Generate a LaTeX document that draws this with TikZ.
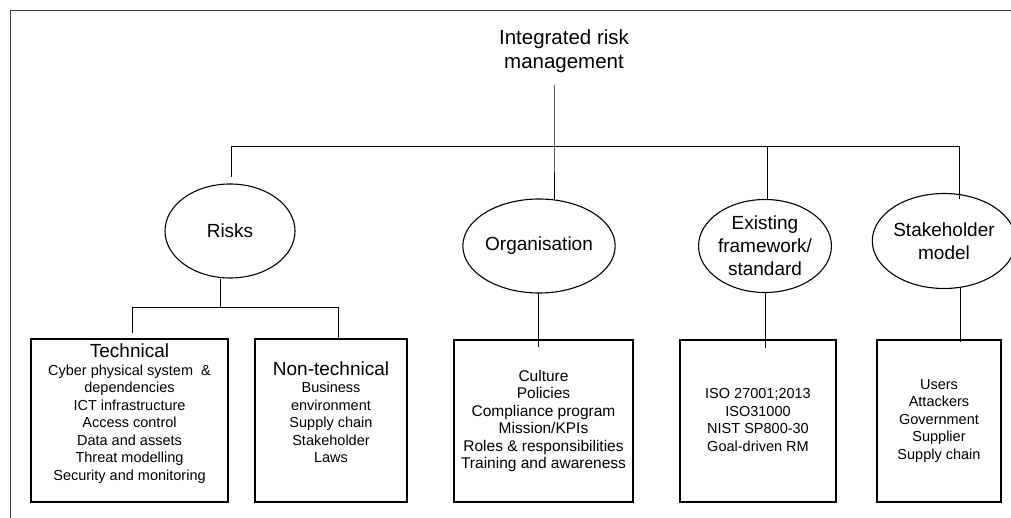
\documentclass[tikz,border=0pt]{standalone}
\usepackage{fontspec}
\setmainfont{Liberation Sans}
\usetikzlibrary{shapes.geometric}
\newcommand{\hdfont}{\fontsize{19}{18}\selectfont}
\begin{document}
\begin{tikzpicture}[x=1pt,y=-1pt,
  conn/.style={draw=black, line width=0.9pt},
  frame/.style={draw=black!75, line width=0.9pt},
  oval/.style={ellipse, draw, line width=1.1pt, inner sep=0pt, align=center,
    font=\fontsize{19}{23}\selectfont},
  box/.style={rectangle, draw, line width=1.2pt, inner sep=0pt},
  boxtext/.style={align=center, inner sep=0pt, font=\fontsize{14.5}{17.5}\selectfont}]
\useasboundingbox (0,0) rectangle (1011,518);
% partial frame
\coordinate (fbl) at (10,518);
\coordinate (ftl) at (10,10);
\coordinate (ftr) at (1011,10);
\draw[frame] (fbl) -- (ftl) -- (ftr);
% title
\node[align=center, inner sep=0pt, font=\fontsize{20.5}{24}\selectfont] (title) at (564,51)
  {Integrated risk\\management};
% ellipses
\node[oval, minimum width=130pt, minimum height=94pt] (risks) at (230,231) {Risks};
\node[oval, minimum width=132pt, minimum height=94pt] (org) at (539,246) {Organisation};
\node[oval, minimum width=124pt, minimum height=93pt] (exist) at (765,246) {Existing\\framework/\\standard};
\node[oval, minimum width=132pt, minimum height=95pt] (stake) at (944,241) {Stakeholder\\model};
% boxes
\node[box, minimum width=197pt, minimum height=163pt] (tech) at (129.5,420.5) {};
\node[box, minimum width=152pt, minimum height=163pt] (nontech) at (331,420.5) {};
\node[box, minimum width=179pt, minimum height=162pt] (orgbox) at (543.5,421) {};
\node[box, minimum width=156pt, minimum height=162pt] (existbox) at (758,421) {};
\node[box, minimum width=124pt, minimum height=162pt] (stakebox) at (939,421) {};
% box texts
\node[boxtext] (techT) at (129.5,413.5) {{\hdfont Technical}\\Cyber physical system\ \ \&\\dependencies\\ICT infrastructure\\Access control\\Data and assets\\Threat modelling\\Security and monitoring};
\node[boxtext] (nontechT) at (331,412) {{\hdfont Non-technical}\\Business\\environment\\Supply chain\\Stakeholder\\Laws};
\node[boxtext, font=\fontsize{15.5}{17.5}\selectfont] (orgT) at (543.5,421) {Culture\\Policies\\Compliance program\\Mission/KPIs\\Roles \& responsibilities\\Training and awareness};
\node[boxtext] (existT) at (758,420) {ISO 27001;2013\\ISO31000\\NIST SP800-30\\Goal-driven RM};
\node[boxtext] (stakeT) at (939,421) {Users\\Attackers\\Government\\Supplier\\Supply chain};
% upper connectors
\coordinate (busL) at (231,146);
\coordinate (busT) at (554,146);
\coordinate (busE) at (767,146);
\coordinate (busR) at (959,146);
\draw[conn] (busL) -- (busR);
\draw[conn] (busL) -- ([yshift=6pt]busL |- risks.north);
\draw[conn] (busT |- 0,85) -- (busT) -- (busT |- 0,200);
\draw[conn] (busE) -- (busE |- exist.north);
\draw[conn] (busR) -- (busR |- 0,199);
% risks branch
\coordinate (rj) at (220,307);
\coordinate (rjL) at (132,307);
\coordinate (rjR) at (338,307);
\draw[conn] (rj |- risks.south) -- (rj);
\draw[conn] (rjL) -- (rjR);
\draw[conn] (rjL) -- (132,333);
\draw[conn] (rjR) -- (rjR |- nontech.north);
% other branches
\draw[conn] (538,293) -- (538,347);
\draw[conn] (exist.south) -- (765,348);
\draw[conn] (960,288) -- (960,342);
\end{tikzpicture}
\end{document}
